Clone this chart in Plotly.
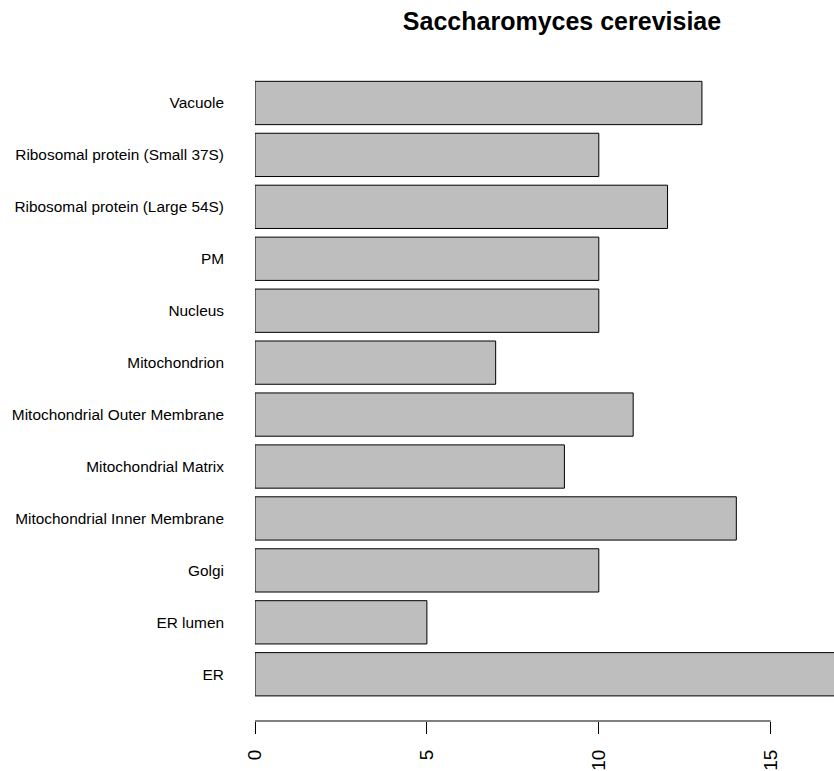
import plotly.graph_objects as go

# Compartments, listed bottom to top
compartments = [
    "ER",
    "ER lumen",
    "Golgi",
    "Mitochondrial Inner Membrane",
    "Mitochondrial Matrix",
    "Mitochondrial Outer Membrane",
    "Mitochondrion",
    "Nucleus",
    "PM",
    "Ribosomal protein (Large 54S)",
    "Ribosomal protein (Small 37S)",
    "Vacuole",
]
counts = [18, 5, 10, 14, 9, 11, 7, 10, 10, 12, 10, 13]
x_ticks = [0, 5, 10, 15]

W, H = 834, 771
FONT = "Liberation Sans, Arial, Helvetica, sans-serif"

fig = go.Figure(
    go.Bar(
        x=counts,
        y=compartments,
        orientation="h",
        marker=dict(color="#BEBEBE", line=dict(color="black", width=1)),
        hoverinfo="skip",
    )
)

fig.update_layout(
    width=W,
    height=H,
    margin=dict(l=255, r=0, t=77, b=50, autoexpand=False),
    paper_bgcolor="white",
    plot_bgcolor="white",
    showlegend=False,
    bargap=1 - 1 / 1.2,
    font=dict(family=FONT, size=15.4, color="black"),
    title=dict(
        text="Saccharomyces cerevisiae",
        xref="container",
        yref="container",
        x=562 / W,
        y=1 - 21 / H,
        xanchor="center",
        yanchor="middle",
        automargin=False,
        font=dict(family=FONT, size=25, weight=700, color="black"),
    ),
    xaxis=dict(
        range=[0, 579 / 34.38],
        tickvals=x_ticks,
        ticktext=[str(v) for v in x_ticks],
        ticks="outside",
        ticklen=12,
        tickwidth=1,
        tickcolor="black",
        tickangle=-90,
        tickfont=dict(size=19),
        ticklabelstandoff=8,
        automargin=False,
        showline=False,
        showgrid=False,
        zeroline=False,
        fixedrange=True,
    ),
    yaxis=dict(
        categoryorder="array",
        categoryarray=compartments,
        range=[-0.9, len(compartments) - 0.5],
        ticks="",
        ticklabelstandoff=30,
        automargin=False,
        showline=False,
        showgrid=False,
        zeroline=False,
        fixedrange=True,
    ),
    shapes=[
        dict(
            type="line",
            xref="x",
            yref="paper",
            x0=x_ticks[0],
            x1=x_ticks[-1],
            y0=0,
            y1=0,
            line=dict(color="black", width=1),
        )
    ],
)

fig.write_html("out.html", config={"displayModeBar": False})
